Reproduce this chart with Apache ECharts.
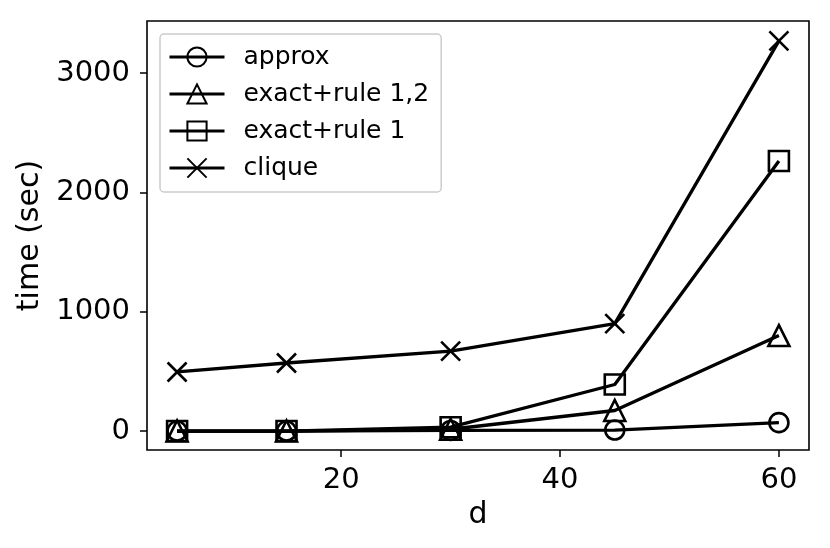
<!DOCTYPE html>
<html><head><meta charset="utf-8">
<script src="https://cdn.jsdelivr.net/npm/echarts@6/dist/echarts.min.js"></script>
<style>html,body{margin:0;padding:0;background:#fff}#c{width:830px;height:548px}</style>
</head><body><div id="c"></div>
<script>
const dValues = [5, 15, 30, 45, 60];
const seriesNames = ['approx', 'exact+rule 1,2', 'exact+rule 1', 'clique'];
const approx = [0, 0, 5, 8, 70];
const exactRule12 = [0, 0, 15, 172, 800];
const exactRule1 = [0, 0, 32, 390, 2263];
const clique = [495, 570, 670, 900, 3270];
const xTicks = [20, 40, 60];
const yTicks = [0, 1000, 2000, 3000];

const FONT = 'DejaVu Sans';
const symbols = ['circle', 'triangle', 'rect', 'path://M0,0L10,10M10,0L0,10'];
const sizes = [19, 21, 20, 19];
const allValues = [approx, exactRule12, exactRule1, clique];

const chart = echarts.init(document.getElementById('c'), null, {renderer: 'canvas'});
chart.setOption({
  animation: false,
  backgroundColor: '#fff',
  grid: {left: 147, right: 21, top: 21, bottom: 98, show: true, borderColor: '#000', borderWidth: 1.6, backgroundColor: 'transparent'},
  legend: {
    left: 160, top: 34, orient: 'vertical',
    data: seriesNames,
    itemWidth: 55, itemHeight: 24, itemGap: 11,
    padding: [10, 12, 11, 8],
    borderColor: '#cccccc', borderWidth: 1.5, borderRadius: 4,
    backgroundColor: 'rgba(255,255,255,0.8)',
    lineStyle: {width: 3, color: '#000'},
    textStyle: {fontFamily: FONT, fontSize: 25, color: '#000', lineHeight: 26, padding: [0, 0, 0, 14]},
    selectedMode: false
  },
  xAxis: {
    type: 'value', min: 2.25, max: 62.75,
    name: 'd', nameLocation: 'middle', nameGap: 49,
    nameTextStyle: {fontFamily: FONT, fontSize: 30, color: '#000'},
    axisLine: {show: false, onZero: false},
    axisTick: {show: true, length: 7, lineStyle: {color: '#000', width: 1.5}, customValues: xTicks},
    axisLabel: {fontFamily: FONT, fontSize: 29, color: '#000', margin: 16, customValues: xTicks, formatter: v => String(v)},
    splitLine: {show: false}
  },
  yAxis: {
    type: 'value', min: -159, max: 3436,
    name: 'time (sec)', nameLocation: 'middle', nameGap: 94,
    nameTextStyle: {fontFamily: FONT, fontSize: 30, color: '#000'},
    axisLine: {show: false, onZero: false},
    axisTick: {show: true, length: 7, lineStyle: {color: '#000', width: 1.5}, customValues: yTicks},
    axisLabel: {fontFamily: FONT, fontSize: 29, color: '#000', margin: 17, customValues: yTicks, formatter: v => String(v)},
    splitLine: {show: false}
  },
  series: seriesNames.map((name, i) => ({
    name: name,
    type: 'line',
    data: dValues.map((d, j) => [d, allValues[i][j]]),
    symbol: symbols[i],
    symbolSize: sizes[i],
    showAllSymbol: true,
    lineStyle: {color: '#000', width: 3.3},
    itemStyle: {color: 'transparent', borderColor: '#000', borderWidth: 2.6},
    emphasis: {disabled: true},
    z: 2 + i
  }))
});
</script></body></html>
